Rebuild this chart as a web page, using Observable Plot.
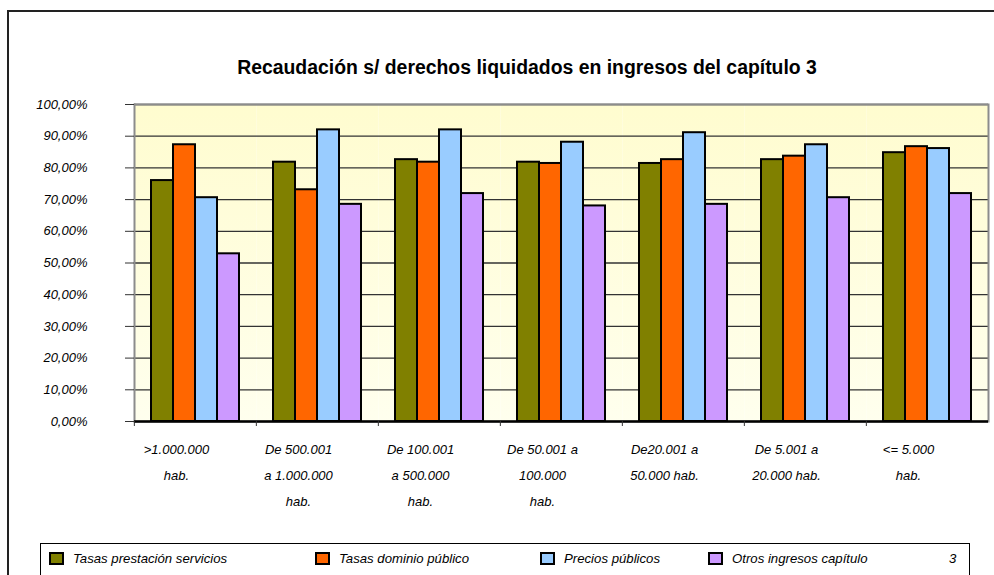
<!DOCTYPE html>
<html>
<head>
<meta charset="utf-8">
<script src="https://cdn.jsdelivr.net/npm/d3@7"></script>
<script src="https://cdn.jsdelivr.net/npm/@observablehq/plot@0.6"></script>
<style>
  html, body { margin: 0; padding: 0; background: #fff; width: 994px; height: 575px; overflow: hidden; }
  body { font-family: "Liberation Sans", Arial, sans-serif; position: relative; }
  #outer { position: absolute; left: 7px; top: 10px; width: 1000px; height: 600px; border-left: 2px solid #222; border-top: 2px solid #222; }
  #title { position: absolute; left: 0; top: 56px; width: 1054px; text-align: center; font-weight: bold; font-size: 19.4px; color: #000; }
  #chart { position: absolute; left: 0; top: 90px; }
  #chart svg text { font-style: italic; }
  #legend { position: absolute; left: 40px; top: 543px; width: 928px; height: 60px; border: 1px solid #000; font-style: italic; font-size: 13.2px; }
  .item { position: absolute; top: 7px; white-space: nowrap; }
  .sw { display: inline-block; width: 11px; height: 9px; border: 2px solid #000; vertical-align: -2px; margin-right: 9px; }
</style>
</head>
<body>
<div id="outer"></div>
<div id="title">Recaudación s/ derechos liquidados en ingresos del capítulo 3</div>
<div id="chart"></div>
<div id="legend"></div>
<script>
const categories = [
  ">1.000.000\nhab.",
  "De 500.001\na 1.000.000\nhab.",
  "De 100.001\na 500.000\nhab.",
  "De 50.001 a\n100.000\nhab.",
  "De20.001 a\n50.000 hab.",
  "De 5.001 a\n20.000 hab.",
  "<= 5.000\nhab."
];
const series = ["Tasas prestación servicios", "Tasas dominio público", "Precios públicos", "Otros ingresos capítulo"];
const colors = ["#808000", "#FF6600", "#99CCFF", "#CC99FF"];
const tasasPrestacion = [76.0, 81.8, 82.6, 81.8, 81.4, 82.6, 84.8];
const tasasDominio    = [87.3, 73.1, 81.8, 81.4, 82.6, 83.7, 86.7];
const preciosPublicos = [70.6, 92.0, 92.0, 88.1, 91.1, 87.3, 86.1];
const otrosIngresos   = [52.9, 68.5, 71.9, 68.0, 68.5, 70.6, 71.9];
const yTicks = [0, 10, 20, 30, 40, 50, 60, 70, 80, 90, 100];

const valuesBySeries = [tasasPrestacion, tasasDominio, preciosPublicos, otrosIngresos];
const data = [];
categories.forEach((c, i) => series.forEach((s, j) => data.push({cat: c, series: s, value: valuesBySeries[j][i]})));

const W = 994, H = 440, ML = 133, MR = 5;
const band = (W - ML - MR) / categories.length;
const fmt = d => d.toFixed(2).replace(".", ",") + "%";

const plot = Plot.plot({
  width: W,
  height: H,
  marginLeft: ML,
  marginRight: MR,
  marginTop: 14,
  marginBottom: 109,
  style: {fontFamily: "'Liberation Sans', Arial, sans-serif", fontSize: "13px", fontStyle: "italic", background: "transparent", color: "#000"},
  fx: {domain: categories, padding: 0, label: null, axis: null},
  x: {domain: series, paddingInner: 0, paddingOuter: 0.77, axis: null},
  y: {domain: [0, 100], label: null},
  color: {domain: series, range: colors},
  marks: [
    Plot.frame({fill: "url(#bgGrad)", stroke: "none"}),
    Plot.gridY(yTicks, {stroke: "#333", strokeOpacity: 1, strokeWidth: 1.3}),
    Plot.ruleY([100], {stroke: "#8c8c8c", strokeWidth: 2}),
    Plot.frame({anchor: "left", facetAnchor: "left", stroke: "#8c8c8c", strokeWidth: 2}),
    Plot.frame({anchor: "right", facetAnchor: "right", stroke: "#8c8c8c", strokeWidth: 2}),
    Plot.axisY(yTicks, {tickFormat: fmt, tickSize: 9, tickPadding: 38, stroke: "#333", fontSize: 13, fontStyle: "italic", label: null}),
    Plot.barY(data, {fx: "cat", x: "series", y: "value", fill: "series", stroke: "#000", strokeWidth: 2}),
    Plot.ruleY([0], {stroke: "#000", strokeWidth: 2.5}),
    Plot.axisFx({anchor: "bottom", tickSize: 5, tickFormat: () => "", dx: -band / 2, stroke: "#333", label: null}),
    Plot.axisFx({anchor: "bottom", tickSize: 0, tickPadding: 14, lineHeight: 2.0, dx: -19, fontSize: 13, fontStyle: "italic", label: null})
  ]
});

const defs = d3.select(plot).insert("defs", ":first-child");
const g = defs.append("linearGradient").attr("id", "bgGrad").attr("x1", 0).attr("y1", 0).attr("x2", 0).attr("y2", 1);
g.append("stop").attr("offset", "0%").attr("stop-color", "#FFFCCF");
g.append("stop").attr("offset", "100%").attr("stop-color", "#FFFFEE");

document.getElementById("chart").appendChild(plot);

const legend = d3.select("#legend");
const lx = [8, 274, 499, 667];
series.forEach((s, i) => {
  const it = legend.append("div").attr("class", "item").style("left", lx[i] + "px");
  it.append("span").attr("class", "sw").style("background", colors[i]);
  it.append("span").text(s);
});
legend.append("div").attr("class", "item").style("left", "908px").text("3");
</script>
</body>
</html>
